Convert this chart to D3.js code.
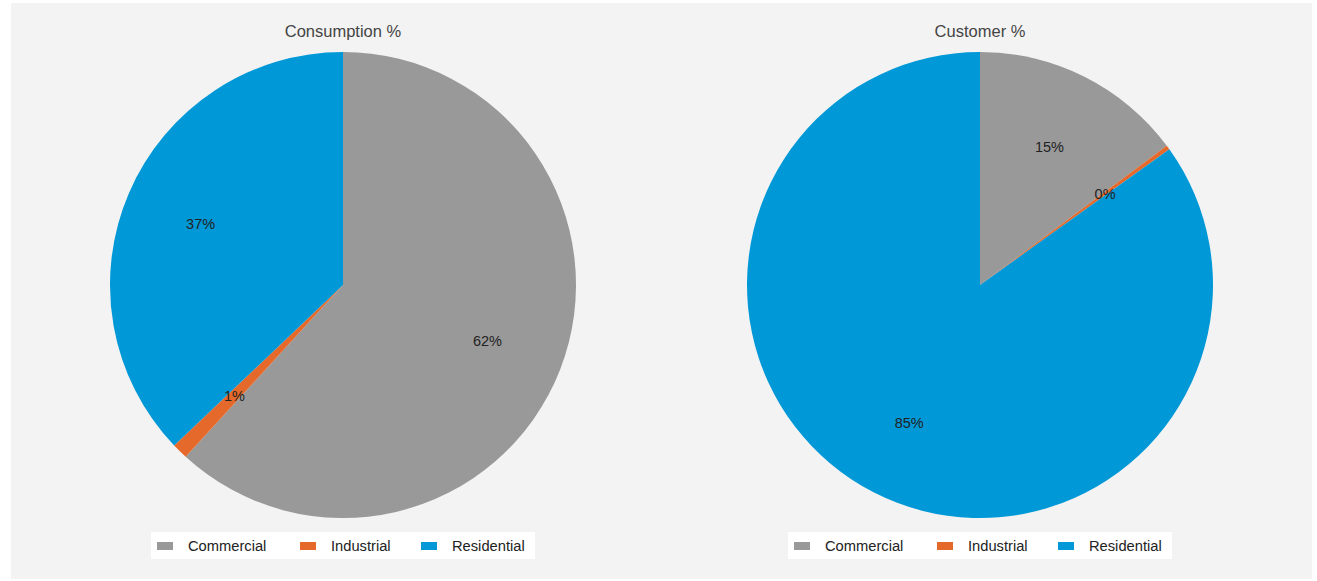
<!DOCTYPE html>
<html>
<head>
<meta charset="utf-8">
<script src="https://cdn.jsdelivr.net/npm/d3@7"></script>
<style>
  html, body { margin: 0; padding: 0; background: #ffffff; }
  svg { display: block; font-family: "Liberation Sans", Arial, sans-serif; }
</style>
</head>
<body>
<svg id="chart" width="1317" height="581"></svg>
<script>
// Customer classes shown in both pies
const categories = ["Commercial", "Industrial", "Residential"];
const colors = ["#999999", "#e5692b", "#0098d7"];

// Share of consumption and of customers, in percent
const consumptionPct = [61.8, 1.1, 37.1];
const customerPct = [14.8, 0.3, 84.9];

const chartTitles = ["Consumption %", "Customer %"];

const svg = d3.select("#chart");

// light panel behind both pies
svg.append("rect")
  .attr("x", 11).attr("y", 3)
  .attr("width", 1301).attr("height", 576)
  .attr("fill", "#f3f3f3");

const color = d3.scaleOrdinal().domain(categories).range(colors);

const radius = 233;
const pie = d3.pie().sort(null).value(d => d.value);
const arc = d3.arc().innerRadius(0).outerRadius(radius);
const labelArc = d3.arc().innerRadius(radius * 0.665).outerRadius(radius * 0.665);

const panels = [
  { title: chartTitles[0], values: consumptionPct, cx: 343 },
  { title: chartTitles[1], values: customerPct, cx: 980 }
];

panels.forEach(p => {
  const data = categories.map((c, i) => ({ name: c, value: p.values[i] }));
  const g = svg.append("g");

  g.append("text")
    .attr("x", p.cx).attr("y", 37)
    .attr("text-anchor", "middle")
    .attr("font-size", 16.5)
    .attr("fill", "#444444")
    .text(p.title);

  const pg = g.append("g").attr("transform", `translate(${p.cx},285)`);
  const arcs = pie(data);

  pg.selectAll("path")
    .data(arcs)
    .join("path")
    .attr("d", arc)
    .attr("fill", d => color(d.data.name));

  pg.selectAll("text")
    .data(arcs)
    .join("text")
    .attr("transform", d => `translate(${labelArc.centroid(d)})`)
    .attr("text-anchor", "middle")
    .attr("dy", "0.35em")
    .attr("font-size", 14.5)
    .attr("fill", "#222222")
    .text(d => d3.format(".0f")(d.data.value) + "%");

  // legend
  const lg = g.append("g").attr("transform", `translate(${p.cx - 192},532)`);
  lg.append("rect")
    .attr("width", 384).attr("height", 27)
    .attr("fill", "#ffffff");
  const offsets = [6, 149, 270];
  categories.forEach((c, i) => {
    const item = lg.append("g").attr("transform", `translate(${offsets[i]},0)`);
    item.append("rect")
      .attr("x", 0).attr("y", 10)
      .attr("width", 16).attr("height", 8)
      .attr("fill", color(c));
    item.append("text")
      .attr("x", 31).attr("y", 14)
      .attr("dy", "0.35em")
      .attr("font-size", 14.7)
      .attr("fill", "#222222")
      .text(c);
  });
});
</script>
</body>
</html>
